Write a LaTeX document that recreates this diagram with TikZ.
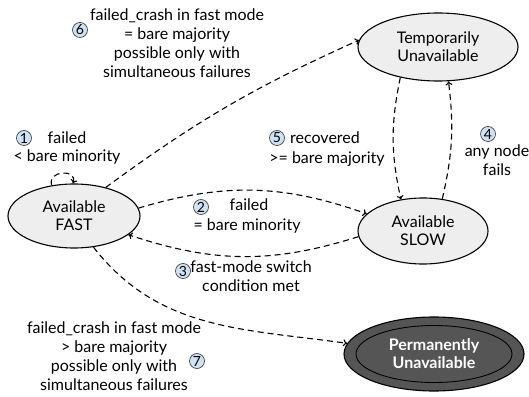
\documentclass[tikz,border=0pt]{standalone}
\usepackage{fontspec}
\setmainfont{Lato}
\usetikzlibrary{shapes.geometric,arrows.meta}
\definecolor{statefill}{HTML}{EEEEEE}
\definecolor{permfill}{HTML}{555555}
\definecolor{numfill}{HTML}{CFE2F3}
\tikzset{
  state/.style={ellipse,draw=black,line width=1.1pt,fill=statefill,inner sep=0pt,align=center,font=\fontsize{16}{18}\selectfont},
  trans/.style={draw=black,line width=1.1pt,dash pattern=on 6pt off 4pt,-{To[length=4pt,width=7pt]}},
  lbl/.style={align=center,inner sep=0pt,font=\fontsize{16}{19}\selectfont},
  num/.style={circle,draw=black!80,line width=0.6pt,fill=numfill,inner sep=0pt,minimum size=15pt,font=\fontsize{14}{14}\selectfont}
}
\begin{document}
\begin{tikzpicture}[x=1pt,y=1pt]
\useasboundingbox[fill=white] (0,0) rectangle (529,396);
% states
\node[state,minimum width=160pt,minimum height=68pt] (temp) at (438,349) {Temporarily\\Unavailable};
\node[state,minimum width=132pt,minimum height=64pt] (fast) at (74,180) {Available\\FAST};
\node[state,minimum width=130pt,minimum height=66pt] (slow) at (423,165) {Available\\SLOW};
\node[ellipse,draw=black,line width=1.1pt,fill=permfill,minimum width=180pt,minimum height=74pt,inner sep=0pt] (perm) at (434,42) {};
\node[ellipse,draw=black,line width=0.9pt,minimum width=156pt,minimum height=57pt,inner sep=0pt,align=center,text=white,font=\fontsize{16}{18}\selectfont\bfseries] (permin) at (434,42) {Permanently\\Unavailable};
% transitions
\draw[trans] (fast.126) .. controls +(-5,15) and +(5,15) .. (fast.92);
\draw[trans] (fast.42) to[bend left=6] (temp.175);
\draw[trans] (fast.7) to[bend left=18] (slow.163);
\draw[trans] (slow.185) to[bend left=18] (fast.-19);
\draw[trans] (temp.219) to[bend right=12] (slow.125);
\draw[trans] (slow.59) to[bend right=10] (temp.-73);
\draw[trans] (fast.-58) to[out=-52,in=172] (perm.173);
% labels
\node[num] (n1) at (24,258) {1};
\node[lbl] (l1a) at (67,258) {failed};
\node[lbl] (l1b) at (67,239) {< bare minority};
\node[num] (n6) at (80,366) {6};
\node[lbl] (l6) at (177,353) {failed\_crash in fast mode\\= bare majority\\possible only with\\simultaneous failures};
\node[num] (n5) at (277,258) {5};
\node[lbl] (l5a) at (325,258) {recovered};
\node[lbl] (l5b) at (327,237) {>= bare majority};
\node[num] (n4) at (488,262) {4};
\node[lbl] (l4) at (497,236) {any node\\fails};
\node[num] (n2) at (201,189) {2};
\node[lbl] (l2a) at (249,191) {failed};
\node[lbl] (l2b) at (247,170) {= bare minority};
\node[num] (n3) at (183,125) {3};
\node[lbl] (l3) at (251,120) {fast-mode switch\\condition met};
\node[lbl] (l7) at (114,40) {failed\_crash in fast mode\\> bare majority\\possible only with\\simultaneous failures};
\node[num] (n7) at (197,35) {7};
\end{tikzpicture}
\end{document}
